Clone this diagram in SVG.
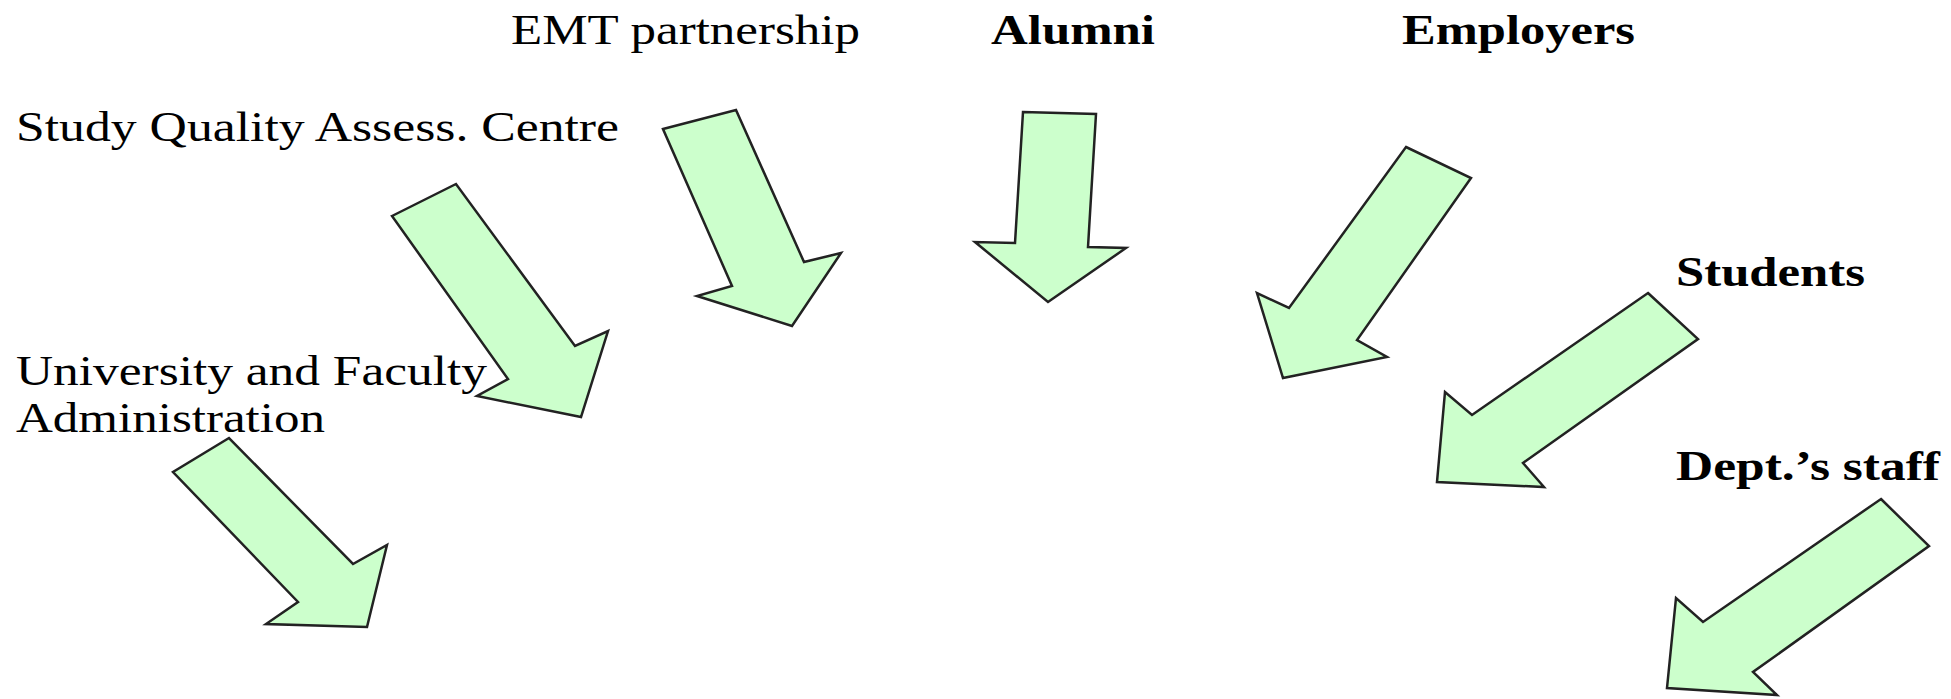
<svg xmlns="http://www.w3.org/2000/svg" width="1951" height="699" viewBox="0 0 1951 699">
  <style>
    .bg { fill: #ffffff; }
    .lbl { font-family: "Liberation Serif", "Times New Roman", serif; font-size: 42px; fill: #000000; }
    .b { font-weight: bold; }
    .arrow { fill: #ccffcc; stroke: #222222; stroke-width: 2.5; stroke-linejoin: miter; }
  </style>
  <rect class="bg" x="0" y="0" width="1951" height="699"/>

  <!-- source labels -->
  <g id="emt-partnership">
    <text class="lbl" x="511" y="44" textLength="349" lengthAdjust="spacingAndGlyphs">EMT partnership</text>
  </g>
  <g id="alumni">
    <text class="lbl b" x="991" y="44" textLength="164" lengthAdjust="spacingAndGlyphs">Alumni</text>
  </g>
  <g id="employers">
    <text class="lbl b" x="1402" y="44" textLength="233" lengthAdjust="spacingAndGlyphs">Employers</text>
  </g>
  <g id="study-quality">
    <text class="lbl" x="16" y="141" textLength="603" lengthAdjust="spacingAndGlyphs">Study Quality Assess. Centre</text>
  </g>
  <g id="students">
    <text class="lbl b" x="1676" y="286" textLength="189" lengthAdjust="spacingAndGlyphs">Students</text>
  </g>
  <g id="university-administration">
    <text class="lbl" x="16" y="385" textLength="471" lengthAdjust="spacingAndGlyphs">University and Faculty</text>
    <text class="lbl" x="16" y="432" textLength="309" lengthAdjust="spacingAndGlyphs">Administration</text>
  </g>
  <g id="dept-staff">
    <text class="lbl b" x="1676" y="480" textLength="264" lengthAdjust="spacingAndGlyphs">Dept.’s staff</text>
  </g>

  <!-- block arrows -->
  <g id="connectors">
    <polygon class="arrow" points="392,216 456,184 575,346 608,331 581,417 477,396 508,379"/>
    <polygon class="arrow" points="663,129 736,110 804,262 841,253 792,326 697,296 732,286"/>
    <polygon class="arrow" points="1023,112 1096,114 1088,247 1126,248 1048,302 975,242 1015,243"/>
    <polygon class="arrow" points="1406,147 1471,178 1357,340 1387,357 1283,378 1257,293 1289,308"/>
    <polygon class="arrow" points="1648,293 1698,339 1523,463 1544,487 1437,482 1445,392 1472,415"/>
    <polygon class="arrow" points="1881,499 1929,546 1753,672 1777,695 1667,688 1676,598 1703,622"/>
    <polygon class="arrow" points="229,438 173,472 298,602 266,624 367,627 387,545 353,564"/>
  </g>
</svg>
